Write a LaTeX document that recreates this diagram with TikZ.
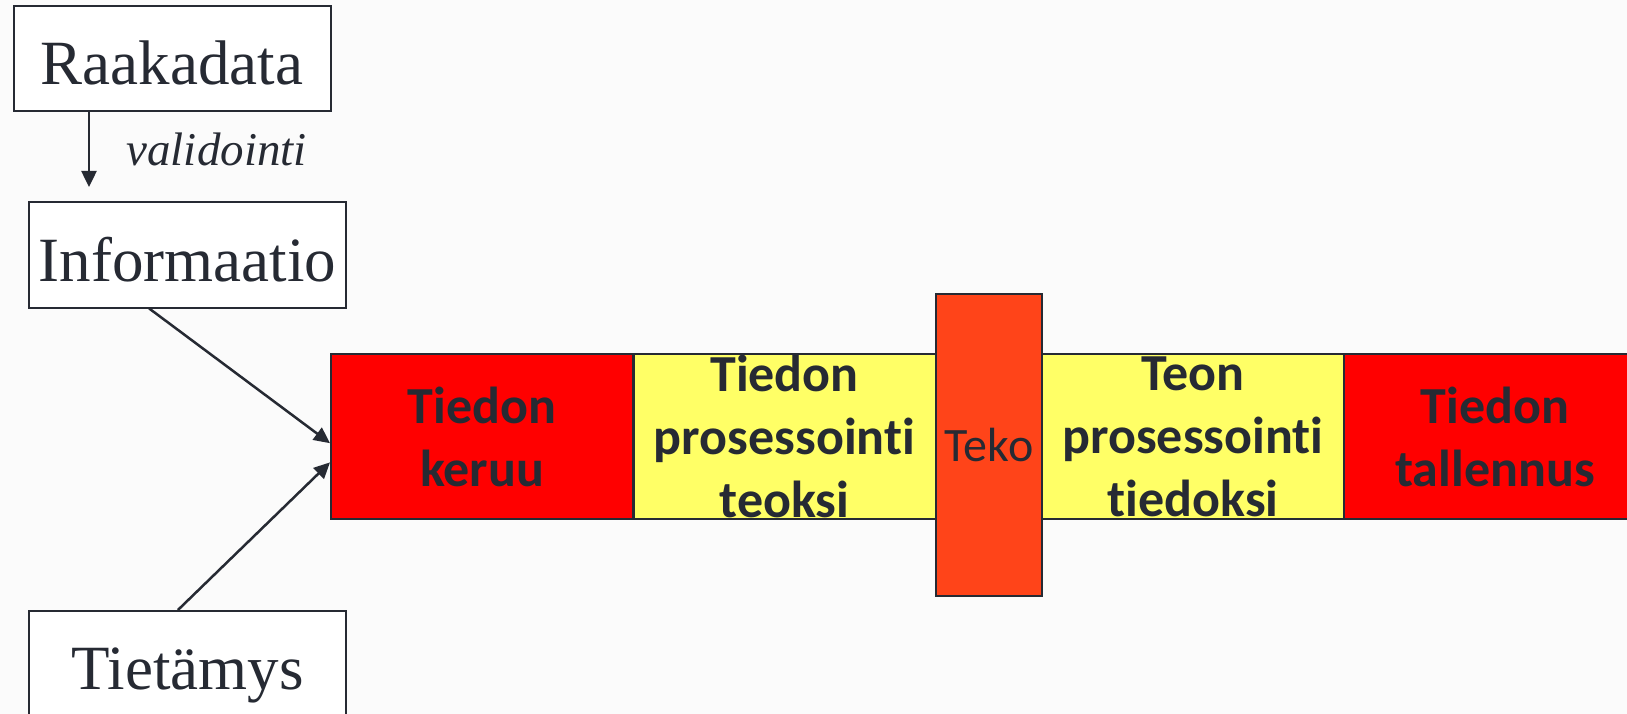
\documentclass[tikz,border=0pt]{standalone}
\usepackage{fontspec}
\setmainfont{Liberation Serif}
\newfontfamily\carlito[Ligatures=NoCommon]{Carlito}
\usepackage{tikz}
\usetikzlibrary{arrows.meta}
\usetikzlibrary{calc}

\definecolor{inkgray}{HTML}{262A33}
\definecolor{bggray}{HTML}{FBFBFB}
\definecolor{lemon}{HTML}{FFFF66}
\definecolor{tekored}{HTML}{FF4419}

\tikzset{
  termbox/.style={draw=inkgray, line width=2pt, fill=white, text=inkgray,
    minimum width=317pt, minimum height=105pt, inner sep=0pt,
    text height=52pt, text depth=0pt, font=\fontsize{63}{70}\selectfont},
  phase/.style={draw=inkgray, line width=2pt, text=inkgray,
    minimum width=302pt, minimum height=165pt, inner sep=0pt, align=center,
    font=\carlito\bfseries\fontsize{52}{63}\selectfont},
  arr/.style={-{Triangle[length=16pt,width=15pt]}, line width=2.5pt, draw=inkgray},
}

\begin{document}
\begin{tikzpicture}[x=1pt,y=-1pt]
                \fill[bggray](0,0) rectangle (1627,714);
                \useasboundingbox(0,0) rectangle (1627,714);
                % vasen puoli
                \node[termbox] (raw) at (172,58.5) {Raakadata};
                \node[termbox] (info) at (187.5,255) {Informaatio};
                \node[termbox] (know) at (187.5,663.5) {Tietämys};
                \coordinate (v) at (89,187);
                \node[anchor=base west, text=inkgray, font=\itshape\fontsize{47}{50}\selectfont] (val) at (123,166) {validointi};
                % palkki
                \node[phase, fill=red] (keruu) at (482,436.5) {Tiedon\\keruu};
                \node[phase, fill=lemon] (toteko) at (784.5,436.5) {Tiedon\\prosessointi\\teoksi};
                \node[phase, fill=lemon] (totieto) at (1193,436.5) {Teon\\prosessointi\\tiedoksi};
                \node[phase, fill=red] (tallennus) at (1495,436.5) {Tiedon\\tallennus};
                \node[phase, fill=tekored, minimum width=106pt, minimum height=302pt,
                      font=\carlito\fontsize{48}{58}\selectfont] (teko) at (989,445) {Teko};
                % nuolet
                \draw[arr](raw.south west -| v)--(v);
                \draw[arr]($(info.south west)!0.38!(info.south east)$)--($(keruu.north west)!0.54!(keruu.south west)$);
                \draw[arr]($(know.north west)!0.47!(know.north east)$)--($(keruu.north west)!0.655!(keruu.south west)$);
            \end{tikzpicture}
\end{document}
